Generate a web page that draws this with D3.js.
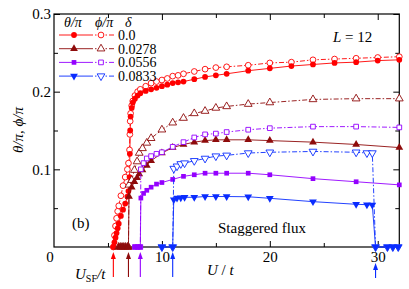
<!DOCTYPE html>
<html>
<head>
<meta charset="utf-8">
<script src="https://cdn.jsdelivr.net/npm/d3@7"></script>
<style>
  body { margin: 0; background: #fff; }
  text { font-family: "Liberation Serif", "Times New Roman", serif; fill: #000; }
</style>
</head>
<body>
<svg id="chart" width="409" height="289"></svg>
<script>
// ---- data ----
const uRed = [5.5, 5.6, 5.7, 5.8, 5.9, 6.0, 6.2, 6.4, 6.6, 6.8, 6.9, 7.0, 7.03, 7.06, 7.1, 7.2, 7.3, 7.5, 7.75, 8.0,
  8.5, 9.0, 9.5, 10.0, 10.5, 11.0, 11.5, 12.0, 13, 14, 15, 16, 18, 20, 22, 24, 26, 28, 30, 32];
const thetaRed = [0, 0.006, 0.012, 0.018, 0.024, 0.03, 0.04, 0.048, 0.056, 0.065, 0.072, 0.09, 0.12, 0.15, 0.168, 0.179, 0.186, 0.191, 0.195, 0.198,
  0.201, 0.203, 0.205, 0.207, 0.209, 0.211, 0.212, 0.213, 0.216, 0.219, 0.221, 0.223, 0.227, 0.230, 0.233, 0.235, 0.237, 0.238, 0.240, 0.241];
const phiRed = [0, 0.015, 0.027, 0.037, 0.046, 0.053, 0.066, 0.079, 0.09, 0.1, 0.108, 0.125, 0.145, 0.162, 0.172, 0.182, 0.188, 0.195, 0.2, 0.203,
  0.207, 0.211, 0.213, 0.215, 0.217, 0.22, 0.221, 0.223, 0.226, 0.229, 0.231, 0.232, 0.234, 0.237, 0.238, 0.241, 0.242, 0.243, 0.244, 0.245];

const uDark = [6.0, 6.2, 6.4, 6.6, 6.8, 6.9, 6.95, 7.2, 7.45, 7.7, 7.9, 8.2, 8.6, 9.0, 10, 11, 12, 13, 14, 15, 16, 18, 20, 24, 28, 32];
const thetaDark = [0, 0, 0, 0, 0, 0, 0.065, 0.077, 0.084, 0.089, 0.094, 0.099, 0.105, 0.111, 0.121, 0.128, 0.132, 0.135, 0.137, 0.138, 0.138, 0.138, 0.137, 0.135, 0.132, 0.128];
const phiDark = [0, 0, 0, 0, 0, 0, 0.080, 0.086, 0.099, 0.110, 0.121, 0.127, 0.134, 0.140, 0.151, 0.160, 0.166, 0.172, 0.175, 0.179, 0.181, 0.184, 0.186, 0.190, 0.191, 0.191];

const uPurple = [7.5, 7.75, 8.0, 8.05, 8.3, 8.6, 9.0, 9.5, 10, 11, 12, 13, 14, 15, 16, 18, 20, 24, 28, 32];
const thetaPurple = [0, 0, 0, 0.063, 0.069, 0.073, 0.077, 0.081, 0.083, 0.087, 0.091, 0.093, 0.095, 0.095, 0.095, 0.095, 0.093, 0.088, 0.084, 0.080];
const phiPurple = [0, 0, 0, 0.100, 0.108, 0.114, 0.117, 0.120, 0.122, 0.129, 0.135, 0.141, 0.145, 0.146, 0.148, 0.151, 0.153, 0.155, 0.155, 0.154];

const uBlue = [10, 11, 11.1, 11.4, 11.75, 12.1, 13, 14, 15, 16, 18, 20, 24, 28, 29, 29.5, 29.8, 30.9, 31.4, 31.9];
const thetaBlue = [0, 0, 0.061, 0.063, 0.0635, 0.064, 0.064, 0.065, 0.065, 0.065, 0.0647, 0.0627, 0.0584, 0.055, 0.0545, 0.054, 0, 0, 0, 0];
const phiBlue = [0, 0, 0.101, 0.104, 0.107, 0.108, 0.111, 0.114, 0.117, 0.118, 0.121, 0.122, 0.123, 0.122, 0.121, 0.121, 0, 0, 0, 0];

const deltaLabels = ["0.0", "0.0278", "0.0556", "0.0833"];
const arrowU = [5.5, 6.9, 8.0, 11.0];
const arrowUHigh = [29.8];
const xMajor = [10, 20, 30];
const xMinor = [5, 15, 25];
const yMajor = [0.1, 0.2, 0.3];
const yMinor = [0.05, 0.15, 0.25];

// ---- set up ----
const svg = d3.select("#chart");
const mLeft = 54, mRight = 399.3, mTop = 14, mBottom = 247;
const x = d3.scaleLinear().domain([0, 32]).range([mLeft, mRight]);
const y = d3.scaleLinear().domain([0, 0.3]).range([mBottom, mTop]);

const colors = ["#ff0000", "#8e0b0b", "#9400ff", "#0a2cff"];
const series = [
  { u: uRed, th: thetaRed, ph: phiRed, sym: d3.symbolCircle, size: 26, rot: 0 },
  { u: uDark, th: thetaDark, ph: phiDark, sym: d3.symbolTriangle, size: 26, rot: 0 },
  { u: uPurple, th: thetaPurple, ph: phiPurple, sym: d3.symbolSquare, size: 22, rot: 0 },
  { u: uBlue, th: thetaBlue, ph: phiBlue, sym: d3.symbolTriangle, size: 26, rot: 180 }
];
const dashDot = "5,2,1.5,2";

// ticks (inward) on all four sides
function tickAxis(axisFn, vals, size, transform) {
  svg.append("g").attr("transform", transform)
    .call(axisFn.tickValues(vals).tickSize(-size).tickFormat(""))
    .call(g => g.select(".domain").remove())
    .selectAll("line").attr("stroke", "#000").attr("stroke-width", 1);
}
tickAxis(d3.axisBottom(x), xMajor, 6, `translate(0,${mBottom})`);
tickAxis(d3.axisBottom(x), xMinor, 4, `translate(0,${mBottom})`);
tickAxis(d3.axisTop(x), xMajor, 6, `translate(0,${mTop})`);
tickAxis(d3.axisTop(x), xMinor, 4, `translate(0,${mTop})`);
tickAxis(d3.axisLeft(y), yMajor, 6, `translate(${mLeft},0)`);
tickAxis(d3.axisLeft(y), yMinor, 4, `translate(${mLeft},0)`);
tickAxis(d3.axisRight(y), yMajor, 6, `translate(${mRight},0)`);
tickAxis(d3.axisRight(y), yMinor, 4, `translate(${mRight},0)`);

// tick labels
svg.append("g").attr("transform", `translate(0,${mBottom})`)
  .call(d3.axisBottom(x).tickValues(xMajor).tickSize(0).tickPadding(4).tickFormat(d3.format("d")))
  .call(g => g.select(".domain").remove())
  .selectAll("text").style("font-size", "15px").style("font-family", "Liberation Serif, serif").attr("fill", "#000");
svg.append("g").attr("transform", `translate(${mLeft - 1},0)`)
  .call(d3.axisLeft(y).tickValues(yMajor).tickSize(0).tickPadding(2).tickFormat(d3.format(".1f")))
  .call(g => g.select(".domain").remove())
  .selectAll("text").style("font-size", "15px").style("font-family", "Liberation Serif, serif").attr("fill", "#000");
svg.append("text").attr("x", x(0) - 4).attr("y", y(0) + 15)
  .attr("text-anchor", "middle").style("font-size", "15px").text("0");

// frame
svg.append("rect").attr("x", mLeft).attr("y", mTop)
  .attr("width", mRight - mLeft).attr("height", mBottom - mTop)
  .attr("fill", "none").attr("stroke", "#000").attr("stroke-width", 1.2);

// series
const plot = svg.append("g");
series.forEach((s, i) => {
  const c = colors[i];
  const ptsTh = s.u.map((u, k) => [x(u), y(s.th[k])]);
  const ptsPh = s.u.map((u, k) => [x(u), y(s.ph[k])]);
  plot.append("path").datum(ptsPh).attr("d", d3.line())
    .attr("fill", "none").attr("stroke", c).attr("stroke-width", 0.9).attr("stroke-dasharray", dashDot);
  plot.append("path").datum(ptsTh).attr("d", d3.line())
    .attr("fill", "none").attr("stroke", c).attr("stroke-width", 0.9);
  const symb = d3.symbol().type(s.sym).size(s.size);
  plot.append("g").selectAll("path").data(ptsPh).join("path")
    .attr("d", symb).attr("transform", d => `translate(${d[0]},${d[1]}) rotate(${s.rot})`)
    .attr("fill", "#fff").attr("stroke", c).attr("stroke-width", 0.9);
  plot.append("g").selectAll("path").data(ptsTh).join("path")
    .attr("d", symb).attr("transform", d => `translate(${d[0]},${d[1]}) rotate(${s.rot})`)
    .attr("fill", c);
});

// legend
const lg = svg.append("g");
lg.append("text").attr("x", 64).attr("y", 26.5).style("font-size", "14px").style("font-style", "italic").text("θ/π");
lg.append("text").attr("x", 95).attr("y", 26.5).style("font-size", "14px").style("font-style", "italic").text("ϕ/π");
lg.append("text").attr("x", 125).attr("y", 26.5).style("font-size", "14px").style("font-style", "italic").text("δ");
series.forEach((s, i) => {
  const ly = 35 + i * 13.7;
  const c = colors[i];
  lg.append("line").attr("x1", 59).attr("x2", 88).attr("y1", ly).attr("y2", ly).attr("stroke", c).attr("stroke-width", 0.9);
  lg.append("line").attr("x1", 88).attr("x2", 116).attr("y1", ly).attr("y2", ly).attr("stroke", c)
    .attr("stroke-width", 0.9).attr("stroke-dasharray", dashDot);
  const symb = d3.symbol().type(s.sym).size(s.size);
  lg.append("path").attr("d", symb).attr("transform", `translate(74,${ly}) rotate(${s.rot})`).attr("fill", c);
  lg.append("path").attr("d", symb).attr("transform", `translate(101,${ly}) rotate(${s.rot})`)
    .attr("fill", "#fff").attr("stroke", c).attr("stroke-width", 0.9);
  lg.append("text").attr("x", 118).attr("y", ly + 5).style("font-size", "14px").text(deltaLabels[i]);
});

// annotations
const lt = svg.append("text").attr("x", 333).attr("y", 42).style("font-size", "15px");
lt.append("tspan").style("font-style", "italic").text("L");
lt.append("tspan").text(" = 12");
svg.append("text").attr("x", 72).attr("y", 228).style("font-size", "15px").text("(b)");
svg.append("text").attr("x", 218).attr("y", 233).style("font-size", "15px").text("Staggered flux");

const ut = svg.append("text").attr("x", 207).attr("y", 275).style("font-size", "15px");
ut.append("tspan").style("font-style", "italic").text("U");
ut.append("tspan").text(" / ");
ut.append("tspan").style("font-style", "italic").text("t");

const us = svg.append("text").attr("x", 75).attr("y", 279).style("font-size", "15px");
us.append("tspan").style("font-style", "italic").text("U");
us.append("tspan").attr("dy", 3).style("font-size", "10px").text("SF");
us.append("tspan").attr("dy", -3).style("font-style", "italic").text("/t");

svg.append("text").attr("transform", "translate(23,130) rotate(-90)")
  .attr("text-anchor", "middle").style("font-size", "15px").style("font-style", "italic").text("θ/π,  ϕ/π");

// arrows below the axis
function arrow(u, c, y1, y2) {
  const ax = x(u);
  svg.append("line").attr("x1", ax).attr("x2", ax).attr("y1", y1 + 4).attr("y2", y2).attr("stroke", c).attr("stroke-width", 1.1);
  svg.append("path").attr("d", `M${ax},${y1} L${ax - 2.5},${y1 + 7} L${ax + 2.5},${y1 + 7} Z`).attr("fill", c);
}
arrowU.forEach((u, i) => arrow(u, colors[i], 252, 277));
arrowUHigh.forEach(u => arrow(u, colors[3], 263, 278));
</script>
</body>
</html>
